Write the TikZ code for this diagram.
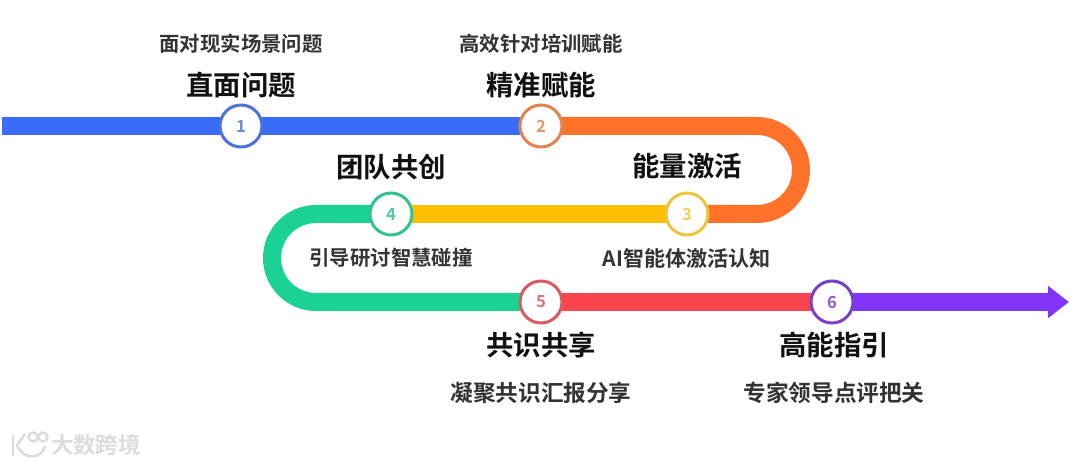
\documentclass[tikz,border=0pt]{standalone}
\usepackage{fontspec}
\setmainfont{Noto Sans CJK SC}[BoldFont={* Bold}]
\usetikzlibrary{arrows.meta, backgrounds}
\definecolor{inkblue}{HTML}{3B6CF8}
\definecolor{inkorange}{HTML}{FF7229}
\definecolor{inkyellow}{HTML}{FFBF00}
\definecolor{inkgreen}{HTML}{1BD194}
\definecolor{inkred}{HTML}{FA444E}
\definecolor{inkpurple}{HTML}{8135F6}
\definecolor{ringblue}{HTML}{4B74D9}
\definecolor{ringorange}{HTML}{E2844F}
\definecolor{ringyellow}{HTML}{EBC63C}
\definecolor{ringgreen}{HTML}{35C090}
\definecolor{ringred}{HTML}{DA5A60}
\definecolor{ringpurple}{HTML}{7B3FC9}
\definecolor{inktitle}{HTML}{111111}
\definecolor{inktext}{HTML}{333333}
\definecolor{inkmark}{HTML}{DCDCDC}
\newcommand{\stopring}[5]{%
  \node[draw=#5, text=#5!85!white, line width=0.06cm, circle, fill=white,
        minimum size=0.84cm, inner sep=0pt, font=\bfseries\fontsize{9.5}{11}\selectfont]
        (#1) at (#2,#3) {#4};}
\tikzset{
  pipe/.style={line width=0.36cm},
  title/.style={text=inktitle, font=\bfseries\fontsize{15.6}{18}\selectfont, inner sep=0pt},
  note/.style={text=inktext, font=\bfseries\fontsize{11.6}{14}\selectfont, inner sep=0pt},
  bignote/.style={note, font=\bfseries\fontsize{12.9}{15}\selectfont},
  markline/.style={draw=inkmark, line width=0.05cm}
}

\begin{document}
\begin{tikzpicture}[x=0.02cm, y=-0.02cm]
  \useasboundingbox (0,0) rectangle (1080,465);
  \stopring{s1}{241}{126}{1}{ringblue}
  \stopring{s2}{541}{126}{2}{ringorange}
  \stopring{s3}{687}{214}{3}{ringyellow}
  \stopring{s4}{391}{214}{4}{ringgreen}
  \stopring{s5}{541}{302}{5}{ringred}
  \stopring{s6}{832}{302}{6}{ringpurple}
  \coordinate (start) at (2,126);
  \coordinate (righttop) at (801,126);
  \coordinate (rightlow) at (801,214);
  \coordinate (lefttop) at (272,214);
  \coordinate (leftlow) at (272,302);
  \coordinate (finish) at (1069,302);
  \begin{scope}[on background layer]
    \draw[pipe, inkblue] (start) -- (s1.center) -- (s2.center);
    \draw[pipe, inkorange, rounded corners=0.88cm] (s2.center) -- (righttop) -- (rightlow) -- (s3.center);
    \draw[pipe, inkyellow] (s3.center) -- (s4.center);
    \draw[pipe, inkgreen, rounded corners=0.88cm] (s4.center) -- (lefttop) -- (leftlow) -- (s5.center);
    \draw[pipe, inkred] (s5.center) -- (s6.center);
    \draw[pipe, inkpurple, -{Triangle[length=0.42cm, width=0.62cm]}] (s6.center) -- (finish);
  \end{scope}
  % labels
  \node[note] (n1) at (241,44) {面对现实场景问题};
  \node[title] (t1) at (241,85) {直面问题};
  \node[note] (n2) at (541,44) {高效针对培训赋能};
  \node[title] (t2) at (541,85) {精准赋能};
  \node[title] (t3) at (687,166) {能量激活};
  \node[note, font=\bfseries\fontsize{12}{14}\selectfont] (n3) at (687,258) {AI智能体激活认知};
  \node[title] (t4) at (391,167) {团队共创};
  \node[note] (n4) at (391,258) {引导研讨智慧碰撞};
  \node[title] (t5) at (541,345) {共识共享};
  \node[bignote] (n5) at (541,393) {凝聚共识汇报分享};
  \node[title] (t6) at (834,345) {高能指引};
  \node[bignote] (n6) at (834,393) {专家领导点评把关};
  % watermark
  \draw[markline] (13,435) -- (13,456);
  \draw[markline] (25,434) -- (17,445) .. controls (22,460) and (42,460) .. (45,446);
  \draw[markline] (33,437) circle[radius=4.5];
  \draw[markline] (43,437) circle[radius=4.5];
  \node[text=inkmark, font=\bfseries\fontsize{12.8}{15}\selectfont, inner sep=0pt] (mark) at (96,445) {大数跨境};
\end{tikzpicture}
\end{document}
